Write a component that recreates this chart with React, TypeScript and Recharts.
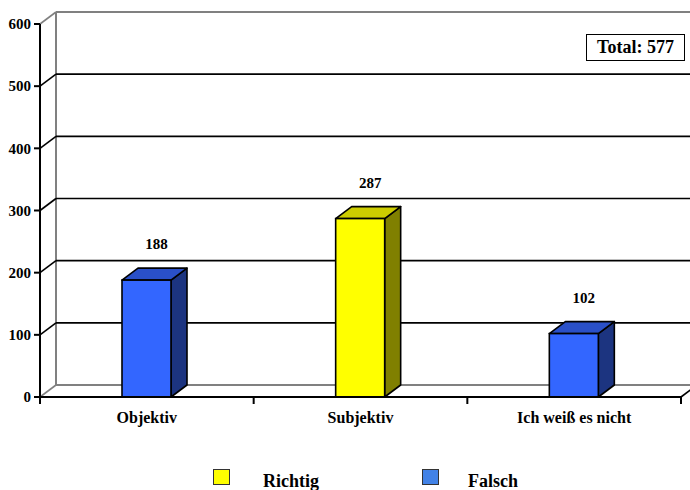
import React from 'react';
import { BarChart, Bar, XAxis, YAxis, CartesianGrid, LabelList } from 'recharts';

// Answers to the question, grouped by category
const categories = ['Objektiv', 'Subjektiv', 'Ich weiß es nicht'];
const counts = [188, 287, 102];
const outcomes = ['Falsch', 'Richtig', 'Falsch'];
const yTicks = [0, 100, 200, 300, 400, 500, 600];
const legendItems = ['Richtig', 'Falsch'];

const FONT = '"Liberation Serif", "Times New Roman", serif';

const WIDTH = 690;
const HEIGHT = 490;
const MARGIN = { top: 24, right: 9, bottom: 63, left: 0 };
const Y_AXIS_W = 40;
const X_AXIS_H = 30;
const PLOT_LEFT = MARGIN.left + Y_AXIS_W;
const PLOT_TOP = MARGIN.top;
const PLOT_BOTTOM = HEIGHT - MARGIN.bottom - X_AXIS_H;
const PLOT_W = WIDTH - PLOT_LEFT - MARGIN.right;
const PLOT_H = PLOT_BOTTOM - PLOT_TOP;

// 3D depth offset of the back wall and of each column
const DX = 16;
const DY = 12;

const palette: Record<string, { front: string; top: string; side: string; legend: string }> = {
  Richtig: { front: '#FFFF00', top: '#CCCC00', side: '#808000', legend: '#FFFF00' },
  Falsch: { front: '#3366FF', top: '#2A50C8', side: '#1C3480', legend: '#4282E6' },
};

const data = categories.map((category, i) => ({
  category,
  value: counts[i],
  outcome: outcomes[i],
}));

const total = counts.reduce((a, b) => a + b, 0);

const WALL = '#808080';

// Back-wall gridline plus the diagonal joining it to the front axis
const renderGridLine = (p: any) => {
  const { x1, y1, x2 } = p;
  const edge = Math.abs(y1 - PLOT_BOTTOM) < 1 || Math.abs(y1 - PLOT_TOP) < 1;
  const isFloor = Math.abs(y1 - PLOT_BOTTOM) < 1;
  const stroke = edge ? WALL : '#000';
  return (
    <g key={`grid-${p.index}-${y1}`}>
      <line x1={x1 + DX} y1={y1 - DY} x2={x2 + DX} y2={y1 - DY} stroke={stroke} strokeWidth={edge ? 2 : 1.6} />
      <line x1={x1} y1={y1} x2={x1 + DX} y2={y1 - DY} stroke={edge ? WALL : '#000'} strokeWidth={1.6} />
      {isFloor && (
        <>
          <line x1={x1 + DX} y1={y1 - DY} x2={x1 + DX} y2={y1 - DY - PLOT_H} stroke={WALL} strokeWidth={2} />
          <line x1={x2} y1={y1} x2={x2 + DX} y2={y1 - DY} stroke="#000" strokeWidth={1.6} />
        </>
      )}
    </g>
  );
};

// Column drawn as a cuboid: front face, top face and right side face
const Column3D = (props: any) => {
  const { x, y, width, height, payload } = props;
  const c = palette[payload.outcome];
  const sw = 1.6;
  return (
    <g>
      <polygon
        points={`${x + width},${y} ${x + width + DX},${y - DY} ${x + width + DX},${y + height - DY} ${x + width},${y + height}`}
        fill={c.side}
        stroke="#000"
        strokeWidth={sw}
        strokeLinejoin="round"
      />
      <polygon
        points={`${x},${y} ${x + DX},${y - DY} ${x + width + DX},${y - DY} ${x + width},${y}`}
        fill={c.top}
        stroke="#000"
        strokeWidth={sw}
        strokeLinejoin="round"
      />
      <rect x={x} y={y} width={width} height={height} fill={c.front} stroke="#000" strokeWidth={sw} />
    </g>
  );
};

const renderValueLabel = (p: any) => {
  const { x, y, width, value } = p;
  return (
    <text
      x={x + width / 2 + 10}
      y={y - 31}
      textAnchor="middle"
      fontFamily={FONT}
      fontWeight="bold"
      fontSize={15}
      fill="#000"
    >
      {value}
    </text>
  );
};

// Category label centred in its band, with tick marks on the band borders
const CategoryTick = (p: any) => {
  const { x, payload, index } = p;
  const half = PLOT_W / categories.length / 2;
  return (
    <g>
      <line x1={x - half} y1={PLOT_BOTTOM} x2={x - half} y2={PLOT_BOTTOM + 7} stroke="#000" strokeWidth={2} />
      {index === categories.length - 1 && (
        <line x1={x + half} y1={PLOT_BOTTOM} x2={x + half} y2={PLOT_BOTTOM + 7} stroke="#000" strokeWidth={2} />
      )}
      <text
        x={x}
        y={PLOT_BOTTOM + 26}
        textAnchor="middle"
        fontFamily={FONT}
        fontWeight="bold"
        fontSize={16}
        fill="#000"
      >
        {payload.value}
      </text>
    </g>
  );
};

export default function App() {
  return (
    <div style={{ position: 'absolute', left: 0, top: 0, width: WIDTH, height: HEIGHT, background: '#fff' }}>
      <BarChart width={WIDTH} height={HEIGHT} data={data} margin={MARGIN}>
        <CartesianGrid vertical={false} horizontal={renderGridLine} />
        <XAxis
          dataKey="category"
          height={X_AXIS_H}
          axisLine={{ stroke: '#000', strokeWidth: 2 }}
          tickLine={false}
          tick={<CategoryTick />}
          interval={0}
        />
        <YAxis
          width={Y_AXIS_W}
          domain={[0, 600]}
          ticks={yTicks}
          interval={0}
          axisLine={{ stroke: '#000', strokeWidth: 2 }}
          tickLine={{ stroke: '#000', strokeWidth: 2 }}
          tickSize={6}
          tickMargin={3}
          tick={{ fill: '#000', fontSize: 15, fontWeight: 'bold', fontFamily: FONT }}
        />
        <Bar dataKey="value" barSize={49} shape={<Column3D />} isAnimationActive={false}>
          <LabelList dataKey="value" content={renderValueLabel} />
        </Bar>
      </BarChart>

      <div
        style={{
          position: 'absolute',
          left: 586,
          top: 34,
          width: 99,
          height: 27,
          boxSizing: 'border-box',
          border: '1.5px solid #000',
          background: '#fff',
          fontFamily: FONT,
          fontWeight: 'bold',
          fontSize: 18,
          lineHeight: '24px',
          textAlign: 'center',
          color: '#000',
        }}
      >
        Total: {total}
      </div>

      {legendItems.map((name, i) => (
        <div key={name} style={{ position: 'absolute', left: 213 + i * 209, top: 469, height: 21, width: 200 }}>
          <div
            style={{
              position: 'absolute',
              left: 0,
              top: 0,
              width: 17,
              height: 16,
              boxSizing: 'border-box',
              border: '1.5px solid #333',
              background: palette[name].legend,
            }}
          />
          <div
            style={{
              position: 'absolute',
              left: 50 - i * 4,
              top: 1,
              fontFamily: FONT,
              fontWeight: 'bold',
              fontSize: 18,
              lineHeight: '22px',
              color: '#000',
              whiteSpace: 'nowrap',
            }}
          >
            {name}
          </div>
        </div>
      ))}
    </div>
  );
}
